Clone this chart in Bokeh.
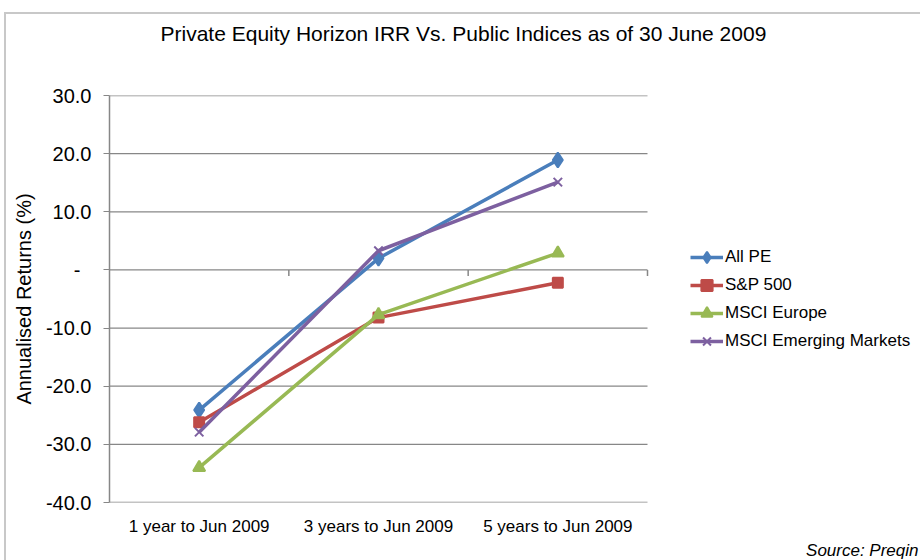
from bokeh.plotting import figure
from bokeh.models import (Range1d, Legend, LegendItem, Title,
                          ColumnDataSource, FixedTicker)
from bokeh.embed import file_html
from bokeh.resources import INLINE

categories = ["1 year to Jun 2009", "3 years to Jun 2009", "5 years to Jun 2009"]
all_pe = [-24.1, 2.0, 18.9]
sp500 = [-26.2, -8.2, -2.2]
msci_europe = [-34.0, -7.7, 2.9]
msci_em = [-27.9, 3.3, 15.1]
y_ticks = [-40, -30, -20, -10, 0, 10, 20, 30]

FONT = "Liberation Sans"
GRID = "#878787"
W, H = 920, 560
FRAME_L, FRAME_R = 109, 918          # screen px of the plot frame
CAT_PX = 538 / len(categories)       # width of one category slot in px

idx = list(range(len(categories)))
x_start = -0.5
x_end = x_start + (FRAME_R - FRAME_L) / CAT_PX

p = figure(x_range=Range1d(x_start, x_end),
           y_range=Range1d(-40, 30),
           width=W, height=H,
           output_backend="svg", toolbar_location=None,
           min_border_left=FRAME_L, min_border_right=W - FRAME_R,
           min_border_top=95, min_border_bottom=58)
p.styles = {
    "background": ("linear-gradient(#c8c8c8,#c8c8c8) 4px 12px / 916px 2px no-repeat, "
                   "linear-gradient(#c8c8c8,#c8c8c8) 4px 12px / 2px 548px no-repeat, white"),
}

p.outline_line_color = None
p.background_fill_color = "white"
p.border_fill_alpha = 0

p.title.text = "Private Equity Horizon IRR Vs. Public Indices as of 30 June 2009\n\n"
p.title.text_font = FONT
p.title.text_font_size = "21px"
p.title.text_font_style = "normal"
p.title.text_color = "#000000"
p.title.align = "left"
p.title.offset = 51
p.title.standoff = 10

# y axis
NBSP = "\u00a0"
p.yaxis.ticker = FixedTicker(ticks=y_ticks)
p.yaxis.major_label_overrides = {t: ("-" + NBSP * 2 if t == 0 else f"{t:.1f}") for t in y_ticks}
p.yaxis.axis_label = "Annualised Returns (%)"
p.yaxis.axis_label_text_font = FONT
p.yaxis.axis_label_text_font_size = "20px"
p.yaxis.axis_label_text_font_style = "normal"
p.yaxis.axis_label_text_color = "#000000"
p.yaxis.axis_label_standoff = 8
p.yaxis.major_label_text_font = FONT
p.yaxis.major_label_text_font_size = "20px"
p.yaxis.major_label_text_color = "#000000"
p.yaxis.major_label_standoff = 12
p.yaxis.axis_line_color = GRID
p.yaxis.major_tick_line_color = GRID
p.yaxis.major_tick_out = 6
p.yaxis.major_tick_in = 0
p.yaxis.minor_tick_line_color = None
p.yaxis.axis_line_width = 1.5

p.xgrid.grid_line_color = None
p.ygrid.grid_line_color = None

# x axis: category labels only
p.xaxis.ticker = FixedTicker(ticks=idx)
p.xaxis.major_label_overrides = {i: c for i, c in zip(idx, categories)}
p.xaxis.axis_line_color = None
p.xaxis.major_tick_line_color = None
p.xaxis.minor_tick_line_color = None
p.xaxis.major_tick_out = 0
p.xaxis.major_label_text_font = FONT
p.xaxis.major_label_text_font_size = "17px"
p.xaxis.major_label_text_color = "#000000"
p.xaxis.major_label_standoff = 14

# horizontal gridlines spanning only the category area
grid_src = ColumnDataSource(dict(y=y_ticks,
                                 x0=[idx[0] - 0.5] * len(y_ticks),
                                 x1=[idx[-1] + 0.5] * len(y_ticks)))
p.segment(x0="x0", y0="y", x1="x1", y1="y", source=grid_src,
          line_color=GRID, line_width=1.3)

# tick marks on the zero line at category boundaries
tick_src = ColumnDataSource(dict(x=[i + 0.5 for i in idx],
                                 y0=[0] * len(idx), y1=[-1.05] * len(idx)))
p.segment(x0="x", y0="y0", x1="x", y1="y1", source=tick_src,
          line_color=GRID, line_width=1.5)

series = [
    ("All PE", all_pe, "#4A7EBB", "diamond", 15),
    ("S&P 500", sp500, "#BE4B48", "square", 10),
    ("MSCI Europe", msci_europe, "#98B954", "triangle", 12),
    ("MSCI Emerging Markets", msci_em, "#7D60A0", "x", 12),
]

items = []
for name, vals, color, marker, size in series:
    src = ColumnDataSource(dict(x=idx, y=vals))
    ln = p.line("x", "y", source=src, line_color=color, line_width=3.5)
    sc = p.scatter("x", "y", source=src, marker=marker, size=size,
                   fill_color=color, line_color=color, line_width=2)
    items.append(LegendItem(label=name, renderers=[ln, sc]))

legend = Legend(items=items, location=(581, 147))
legend.label_text_font = FONT
legend.label_text_font_size = "17px"
legend.label_text_color = "#000000"
legend.label_standoff = 2
legend.glyph_width = 33
legend.glyph_height = 28
legend.label_height = 20
legend.spacing = 0
legend.padding = 0
legend.margin = 0
legend.border_line_color = None
legend.background_fill_alpha = 0
p.add_layout(legend)

source_title = Title(text="Source: Preqin", align="right", text_font=FONT,
                     text_font_size="17px", text_font_style="italic",
                     text_color="#000000", offset=0, standoff=0)
p.add_layout(source_title, "below")

open("out.html", "w").write(file_html(p, INLINE))
